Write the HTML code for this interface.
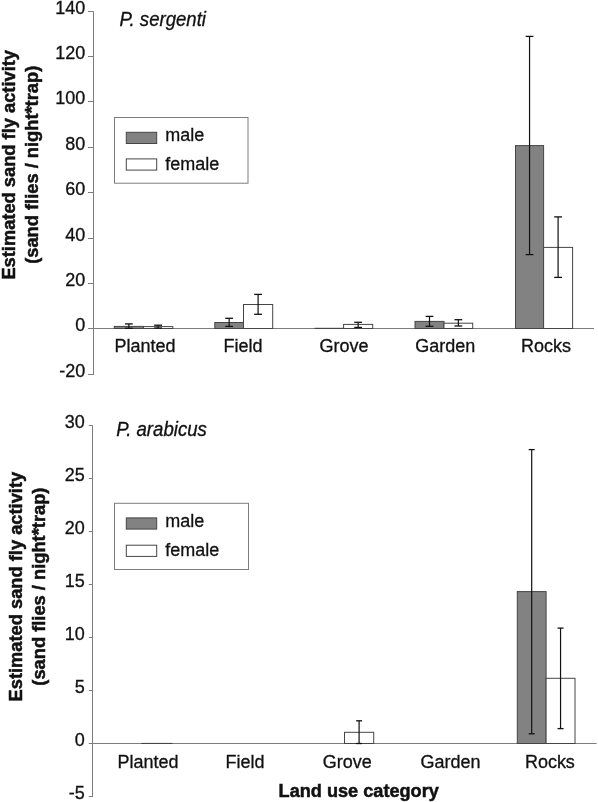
<!DOCTYPE html>
<html><head><meta charset="utf-8"><style>
html,body{margin:0;padding:0;background:#fff;}
svg{display:block;font-family:"Liberation Sans", sans-serif;will-change:transform;}
text{fill:#111;}
</style></head><body>
<svg width="598" height="802" viewBox="0 0 598 802">
<rect width="598" height="802" fill="#fff"/>
<line x1="93.5" y1="11.5" x2="93.5" y2="375" stroke="#7d7d7d" stroke-width="1"/>
<line x1="88" y1="11.5" x2="93.5" y2="11.5" stroke="#7d7d7d" stroke-width="1"/>
<text transform="translate(85.2 14.1) scale(1 1.05)" font-size="18" text-anchor="end" font-weight="normal" font-style="normal" stroke="#111" stroke-width="0.3" >140</text>
<line x1="88" y1="56.5" x2="93.5" y2="56.5" stroke="#7d7d7d" stroke-width="1"/>
<text transform="translate(85.2 59.1) scale(1 1.05)" font-size="18" text-anchor="end" font-weight="normal" font-style="normal" stroke="#111" stroke-width="0.3" >120</text>
<line x1="88" y1="101.5" x2="93.5" y2="101.5" stroke="#7d7d7d" stroke-width="1"/>
<text transform="translate(85.2 104.1) scale(1 1.05)" font-size="18" text-anchor="end" font-weight="normal" font-style="normal" stroke="#111" stroke-width="0.3" >100</text>
<line x1="88" y1="147.5" x2="93.5" y2="147.5" stroke="#7d7d7d" stroke-width="1"/>
<text transform="translate(85.2 150.1) scale(1 1.05)" font-size="18" text-anchor="end" font-weight="normal" font-style="normal" stroke="#111" stroke-width="0.3" >80</text>
<line x1="88" y1="192.5" x2="93.5" y2="192.5" stroke="#7d7d7d" stroke-width="1"/>
<text transform="translate(85.2 195.1) scale(1 1.05)" font-size="18" text-anchor="end" font-weight="normal" font-style="normal" stroke="#111" stroke-width="0.3" >60</text>
<line x1="88" y1="238.5" x2="93.5" y2="238.5" stroke="#7d7d7d" stroke-width="1"/>
<text transform="translate(85.2 241.1) scale(1 1.05)" font-size="18" text-anchor="end" font-weight="normal" font-style="normal" stroke="#111" stroke-width="0.3" >40</text>
<line x1="88" y1="283.5" x2="93.5" y2="283.5" stroke="#7d7d7d" stroke-width="1"/>
<text transform="translate(85.2 286.1) scale(1 1.05)" font-size="18" text-anchor="end" font-weight="normal" font-style="normal" stroke="#111" stroke-width="0.3" >20</text>
<line x1="88" y1="328.5" x2="93.5" y2="328.5" stroke="#7d7d7d" stroke-width="1"/>
<text transform="translate(85.2 331.1) scale(1 1.05)" font-size="18" text-anchor="end" font-weight="normal" font-style="normal" stroke="#111" stroke-width="0.3" >0</text>
<line x1="88" y1="374.5" x2="93.5" y2="374.5" stroke="#7d7d7d" stroke-width="1"/>
<text transform="translate(85.2 377.1) scale(1 1.05)" font-size="18" text-anchor="end" font-weight="normal" font-style="normal" stroke="#111" stroke-width="0.3" >-20</text>
<line x1="93" y1="328.5" x2="594" y2="328.5" stroke="#7d7d7d" stroke-width="1"/>
<rect x="114.3" y="326.4" width="29.10000000000001" height="2.1000000000000227" fill="#828282" stroke="#454545" stroke-width="1"/>
<rect x="143.4" y="326.6" width="29.400000000000006" height="1.8999999999999773" fill="#fff" stroke="#454545" stroke-width="1"/>
<rect x="214.8" y="322.5" width="28.69999999999999" height="6.0" fill="#828282" stroke="#454545" stroke-width="1"/>
<rect x="243.5" y="304.5" width="29.19999999999999" height="24.0" fill="#fff" stroke="#454545" stroke-width="1"/>
<rect x="315.0" y="328.3" width="28.600000000000023" height="0.19999999999998863" fill="#828282" stroke="#454545" stroke-width="1"/>
<rect x="343.6" y="324.4" width="29.099999999999966" height="4.100000000000023" fill="#fff" stroke="#454545" stroke-width="1"/>
<rect x="415.0" y="321.4" width="29.0" height="7.100000000000023" fill="#828282" stroke="#454545" stroke-width="1"/>
<rect x="444.0" y="323.2" width="28.69999999999999" height="5.300000000000011" fill="#fff" stroke="#454545" stroke-width="1"/>
<rect x="515.5" y="145.6" width="28.100000000000023" height="182.9" fill="#828282" stroke="#454545" stroke-width="1"/>
<rect x="543.6" y="247.4" width="29.0" height="81.1" fill="#fff" stroke="#454545" stroke-width="1"/>
<line x1="128.85" y1="323.9" x2="128.85" y2="328.3" stroke="#111" stroke-width="1.2"/>
<line x1="124.94999999999999" y1="323.9" x2="132.75" y2="323.9" stroke="#111" stroke-width="1.3"/>
<line x1="124.94999999999999" y1="328.3" x2="132.75" y2="328.3" stroke="#111" stroke-width="1.3"/>
<line x1="158.10000000000002" y1="325.2" x2="158.10000000000002" y2="328.0" stroke="#111" stroke-width="1.2"/>
<line x1="154.20000000000002" y1="325.2" x2="162.00000000000003" y2="325.2" stroke="#111" stroke-width="1.3"/>
<line x1="154.20000000000002" y1="328.0" x2="162.00000000000003" y2="328.0" stroke="#111" stroke-width="1.3"/>
<line x1="229.15" y1="318.3" x2="229.15" y2="326.4" stroke="#111" stroke-width="1.2"/>
<line x1="225.25" y1="318.3" x2="233.05" y2="318.3" stroke="#111" stroke-width="1.3"/>
<line x1="225.25" y1="326.4" x2="233.05" y2="326.4" stroke="#111" stroke-width="1.3"/>
<line x1="258.1" y1="294.4" x2="258.1" y2="314.3" stroke="#111" stroke-width="1.2"/>
<line x1="254.20000000000002" y1="294.4" x2="262.0" y2="294.4" stroke="#111" stroke-width="1.3"/>
<line x1="254.20000000000002" y1="314.3" x2="262.0" y2="314.3" stroke="#111" stroke-width="1.3"/>
<line x1="358.15" y1="322.3" x2="358.15" y2="327.4" stroke="#111" stroke-width="1.2"/>
<line x1="354.25" y1="322.3" x2="362.04999999999995" y2="322.3" stroke="#111" stroke-width="1.3"/>
<line x1="354.25" y1="327.4" x2="362.04999999999995" y2="327.4" stroke="#111" stroke-width="1.3"/>
<line x1="429.5" y1="316.4" x2="429.5" y2="326.3" stroke="#111" stroke-width="1.2"/>
<line x1="425.6" y1="316.4" x2="433.4" y2="316.4" stroke="#111" stroke-width="1.3"/>
<line x1="425.6" y1="326.3" x2="433.4" y2="326.3" stroke="#111" stroke-width="1.3"/>
<line x1="458.35" y1="319.7" x2="458.35" y2="326.0" stroke="#111" stroke-width="1.2"/>
<line x1="454.45000000000005" y1="319.7" x2="462.25" y2="319.7" stroke="#111" stroke-width="1.3"/>
<line x1="454.45000000000005" y1="326.0" x2="462.25" y2="326.0" stroke="#111" stroke-width="1.3"/>
<line x1="529.55" y1="36.4" x2="529.55" y2="254.6" stroke="#111" stroke-width="1.2"/>
<line x1="525.65" y1="36.4" x2="533.4499999999999" y2="36.4" stroke="#111" stroke-width="1.3"/>
<line x1="525.65" y1="254.6" x2="533.4499999999999" y2="254.6" stroke="#111" stroke-width="1.3"/>
<line x1="558.1" y1="216.9" x2="558.1" y2="277.4" stroke="#111" stroke-width="1.2"/>
<line x1="554.2" y1="216.9" x2="562.0" y2="216.9" stroke="#111" stroke-width="1.3"/>
<line x1="554.2" y1="277.4" x2="562.0" y2="277.4" stroke="#111" stroke-width="1.3"/>
<text transform="translate(119.5 26.2) scale(1 1.05)" font-size="18.6" text-anchor="start" font-weight="normal" font-style="italic" stroke="#111" stroke-width="0.3" >P. sergenti</text>
<rect x="114.5" y="117.5" width="133.5" height="65.7" fill="#fff" stroke="#7d7d7d" stroke-width="1"/>
<rect x="126.3" y="132.3" width="30.4" height="11.2" fill="#828282" stroke="#454545" stroke-width="1"/>
<rect x="126.3" y="158.9" width="30.4" height="11.2" fill="#fff" stroke="#454545" stroke-width="1"/>
<text transform="translate(165.2 141) scale(1 1.05)" font-size="18" text-anchor="start" font-weight="normal" font-style="normal" stroke="#111" stroke-width="0.3" >male</text>
<text transform="translate(165.2 169.7) scale(1 1.05)" font-size="18" text-anchor="start" font-weight="normal" font-style="normal" stroke="#111" stroke-width="0.3" >female</text>
<text transform="translate(15.0,164.8) rotate(-90)" font-size="18.3" font-weight="bold" text-anchor="middle" stroke="#111" stroke-width="0.5"><tspan x="0" y="0">Estimated sand fly activity</tspan><tspan x="0" y="22.7">(sand flies / night*trap)</tspan></text>
<text transform="translate(114.4 352.4) scale(1 1.05)" font-size="18" text-anchor="start" font-weight="normal" font-style="normal" stroke="#111" stroke-width="0.3" >Planted</text>
<text transform="translate(223.4 352.4) scale(1 1.05)" font-size="18" text-anchor="start" font-weight="normal" font-style="normal" stroke="#111" stroke-width="0.3" >Field</text>
<text transform="translate(319.6 352.4) scale(1 1.05)" font-size="18" text-anchor="start" font-weight="normal" font-style="normal" stroke="#111" stroke-width="0.3" >Grove</text>
<text transform="translate(415.2 352.4) scale(1 1.05)" font-size="18" text-anchor="start" font-weight="normal" font-style="normal" stroke="#111" stroke-width="0.3" >Garden</text>
<text transform="translate(521.0 352.4) scale(1 1.05)" font-size="18" text-anchor="start" font-weight="normal" font-style="normal" stroke="#111" stroke-width="0.3" >Rocks</text>
<line x1="92.5" y1="425.5" x2="92.5" y2="797" stroke="#7d7d7d" stroke-width="1"/>
<line x1="88.8" y1="425.5" x2="92.5" y2="425.5" stroke="#7d7d7d" stroke-width="1"/>
<text transform="translate(84.7 428.1) scale(1 1.05)" font-size="18" text-anchor="end" font-weight="normal" font-style="normal" stroke="#111" stroke-width="0.3" >30</text>
<line x1="88.8" y1="478.5" x2="92.5" y2="478.5" stroke="#7d7d7d" stroke-width="1"/>
<text transform="translate(84.7 481.1) scale(1 1.05)" font-size="18" text-anchor="end" font-weight="normal" font-style="normal" stroke="#111" stroke-width="0.3" >25</text>
<line x1="88.8" y1="531.5" x2="92.5" y2="531.5" stroke="#7d7d7d" stroke-width="1"/>
<text transform="translate(84.7 534.1) scale(1 1.05)" font-size="18" text-anchor="end" font-weight="normal" font-style="normal" stroke="#111" stroke-width="0.3" >20</text>
<line x1="88.8" y1="584.5" x2="92.5" y2="584.5" stroke="#7d7d7d" stroke-width="1"/>
<text transform="translate(84.7 587.1) scale(1 1.05)" font-size="18" text-anchor="end" font-weight="normal" font-style="normal" stroke="#111" stroke-width="0.3" >15</text>
<line x1="88.8" y1="637.5" x2="92.5" y2="637.5" stroke="#7d7d7d" stroke-width="1"/>
<text transform="translate(84.7 640.1) scale(1 1.05)" font-size="18" text-anchor="end" font-weight="normal" font-style="normal" stroke="#111" stroke-width="0.3" >10</text>
<line x1="88.8" y1="690.5" x2="92.5" y2="690.5" stroke="#7d7d7d" stroke-width="1"/>
<text transform="translate(84.7 693.1) scale(1 1.05)" font-size="18" text-anchor="end" font-weight="normal" font-style="normal" stroke="#111" stroke-width="0.3" >5</text>
<line x1="88.8" y1="743.5" x2="92.5" y2="743.5" stroke="#7d7d7d" stroke-width="1"/>
<text transform="translate(84.7 746.1) scale(1 1.05)" font-size="18" text-anchor="end" font-weight="normal" font-style="normal" stroke="#111" stroke-width="0.3" >0</text>
<line x1="88.8" y1="796.5" x2="92.5" y2="796.5" stroke="#7d7d7d" stroke-width="1"/>
<text transform="translate(84.7 799.1) scale(1 1.05)" font-size="18" text-anchor="end" font-weight="normal" font-style="normal" stroke="#111" stroke-width="0.3" >-5</text>
<line x1="92" y1="743.5" x2="596.6" y2="743.5" stroke="#7d7d7d" stroke-width="1"/>
<rect x="141.9" y="743.4" width="30" height="0.1" fill="#fff" stroke="#454545" stroke-width="1"/>
<rect x="344.5" y="732.3" width="29.2" height="11.200000000000045" fill="#fff" stroke="#454545" stroke-width="1"/>
<rect x="517.3000000000001" y="591.6" width="28.8" height="151.89999999999998" fill="#828282" stroke="#454545" stroke-width="1"/>
<rect x="546.1" y="678.3" width="28.9" height="65.20000000000005" fill="#fff" stroke="#454545" stroke-width="1"/>
<line x1="359.1" y1="720.8" x2="359.1" y2="743.5" stroke="#111" stroke-width="1.2"/>
<line x1="356.1" y1="720.8" x2="362.1" y2="720.8" stroke="#111" stroke-width="1.3"/>
<line x1="356.1" y1="743.5" x2="362.1" y2="743.5" stroke="#111" stroke-width="1.3"/>
<line x1="531.7" y1="449.6" x2="531.7" y2="733.8" stroke="#111" stroke-width="1.2"/>
<line x1="528.7" y1="449.6" x2="534.7" y2="449.6" stroke="#111" stroke-width="1.3"/>
<line x1="528.7" y1="733.8" x2="534.7" y2="733.8" stroke="#111" stroke-width="1.3"/>
<line x1="560.5500000000001" y1="628.1" x2="560.5500000000001" y2="728.6" stroke="#111" stroke-width="1.2"/>
<line x1="557.5500000000001" y1="628.1" x2="563.5500000000001" y2="628.1" stroke="#111" stroke-width="1.3"/>
<line x1="557.5500000000001" y1="728.6" x2="563.5500000000001" y2="728.6" stroke="#111" stroke-width="1.3"/>
<text transform="translate(116.2 435.8) scale(1 1.05)" font-size="18.6" text-anchor="start" font-weight="normal" font-style="italic" stroke="#111" stroke-width="0.3" >P. arabicus</text>
<rect x="114.5" y="503.3" width="134" height="66.2" fill="#fff" stroke="#7d7d7d" stroke-width="1"/>
<rect x="126.3" y="517.9" width="30.4" height="11.2" fill="#828282" stroke="#454545" stroke-width="1"/>
<rect x="126.3" y="545.2" width="30.4" height="11.2" fill="#fff" stroke="#454545" stroke-width="1"/>
<text transform="translate(165.2 526.7) scale(1 1.05)" font-size="18" text-anchor="start" font-weight="normal" font-style="normal" stroke="#111" stroke-width="0.3" >male</text>
<text transform="translate(165.2 555.5) scale(1 1.05)" font-size="18" text-anchor="start" font-weight="normal" font-style="normal" stroke="#111" stroke-width="0.3" >female</text>
<text transform="translate(22.1,586.6) rotate(-90)" font-size="18.3" font-weight="bold" text-anchor="middle" stroke="#111" stroke-width="0.5"><tspan x="0" y="0">Estimated sand fly activity</tspan><tspan x="0" y="23.4">(sand flies / night*trap)</tspan></text>
<text transform="translate(117.6 768.0) scale(1 1.05)" font-size="18" text-anchor="start" font-weight="normal" font-style="normal" stroke="#111" stroke-width="0.3" >Planted</text>
<text transform="translate(225.5 768.0) scale(1 1.05)" font-size="18" text-anchor="start" font-weight="normal" font-style="normal" stroke="#111" stroke-width="0.3" >Field</text>
<text transform="translate(322.7 768.0) scale(1 1.05)" font-size="18" text-anchor="start" font-weight="normal" font-style="normal" stroke="#111" stroke-width="0.3" >Grove</text>
<text transform="translate(420.4 768.0) scale(1 1.05)" font-size="18" text-anchor="start" font-weight="normal" font-style="normal" stroke="#111" stroke-width="0.3" >Garden</text>
<text transform="translate(524.9 768.0) scale(1 1.05)" font-size="18" text-anchor="start" font-weight="normal" font-style="normal" stroke="#111" stroke-width="0.3" >Rocks</text>
<text transform="translate(278.6 797.2) scale(1 1.05)" font-size="18.15" text-anchor="start" font-weight="bold" font-style="normal" stroke="#111" stroke-width="0.5" >Land use category</text>
</svg>
</body></html>
